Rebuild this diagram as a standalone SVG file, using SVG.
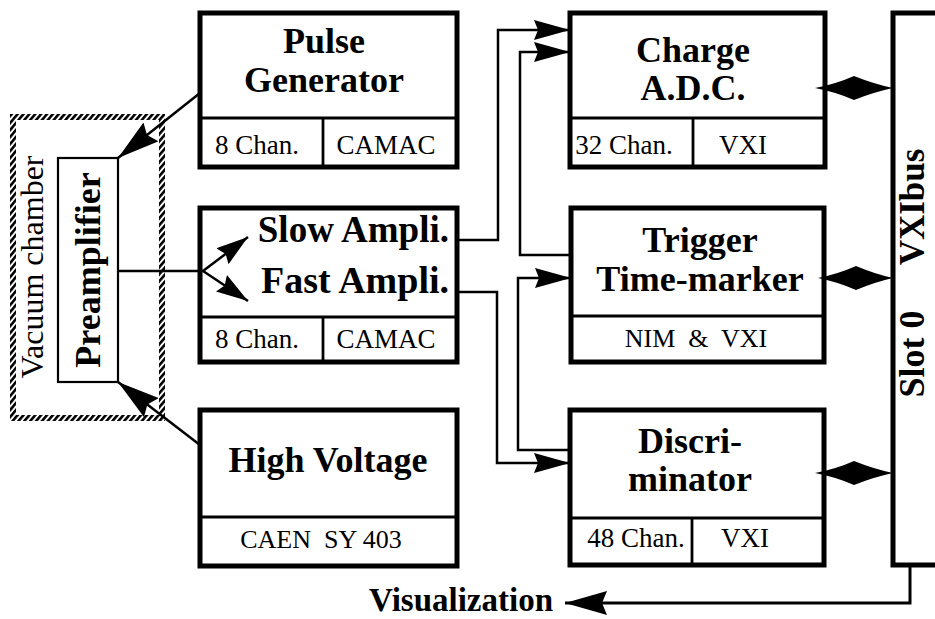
<svg xmlns="http://www.w3.org/2000/svg" width="935" height="619" viewBox="0 0 935 619">
<style>
  .box { fill: #fff; stroke: #000; stroke-width: 5; }
  .div { stroke: #000; stroke-width: 2.8; fill: none; }
  .thin { fill: #fff; stroke: #000; stroke-width: 2.2; }
  .wire { fill: none; stroke: #000; stroke-width: 2.5; }
  .big { font-family: "Liberation Serif", "Times New Roman", serif; font-weight: bold; font-size: 36px; fill: #000; text-anchor: middle; }
  .small { font-family: "Liberation Serif", "Times New Roman", serif; font-size: 27px; fill: #000; text-anchor: middle; }
  .dbl { fill: #000; stroke: none; }
</style>
<defs>
  <pattern id="hatch" width="4.5" height="4.5" patternUnits="userSpaceOnUse" patternTransform="rotate(40)">
    <rect x="0" y="0" width="2.6" height="4.5" fill="#000"/>
  </pattern>
  <marker id="ah" viewBox="0 0 36 20" refX="36" refY="10" markerWidth="36" markerHeight="20" markerUnits="userSpaceOnUse" orient="auto">
    <path d="M0,0 L36,10 L0,20 L4,10 Z" fill="#000"/>
  </marker>
  <marker id="ahs" viewBox="0 0 32 20" refX="32" refY="10" markerWidth="32" markerHeight="20" markerUnits="userSpaceOnUse" orient="auto">
    <path d="M0,0 L32,10 L0,20 L4,10 Z" fill="#000"/>
  </marker>
  <marker id="ahb" viewBox="0 0 42 24" refX="42" refY="12" markerWidth="42" markerHeight="24" markerUnits="userSpaceOnUse" orient="auto">
    <path d="M0,0 L42,12 L0,24 L5,12 Z" fill="#000"/>
  </marker>
</defs>
<rect width="935" height="619" fill="#fff"/>

<g id="vacuum-chamber">
  <rect x="13" y="117" width="149" height="301" fill="none" stroke="url(#hatch)" stroke-width="6"/>
  <text class="small" style="font-size:32px" transform="translate(43,267) rotate(-90)">Vacuum chamber</text>
</g>

<g id="preamplifier">
  <rect class="thin" x="58" y="158" width="60" height="224"/>
  <text class="big" style="font-size:36px" transform="translate(100,270) rotate(-90)">Preamplifier</text>
</g>

<g id="pulse-generator">
  <rect class="box" x="200" y="13" width="257" height="154"/>
  <line class="div" x1="200" y1="118" x2="457" y2="118"/>
  <line class="div" x1="323" y1="118" x2="323" y2="167"/>
  <text class="big" x="324" y="53">Pulse</text>
  <text class="big" x="324" y="92">Generator</text>
  <text class="small" x="257" y="154">8 Chan.</text>
  <text class="small" x="386" y="154">CAMAC</text>
</g>

<g id="amplifier">
  <rect class="box" x="200" y="208" width="257" height="154"/>
  <line class="div" x1="200" y1="317" x2="457" y2="317"/>
  <line class="div" x1="323" y1="317" x2="323" y2="362"/>
  <text class="big" style="text-anchor:end;font-size:37px" x="449" y="242">Slow Ampli.</text>
  <text class="big" style="text-anchor:end;font-size:38px" x="449" y="293">Fast Ampli.</text>
  <text class="small" x="257" y="348">8 Chan.</text>
  <text class="small" x="386" y="348">CAMAC</text>
</g>

<g id="high-voltage">
  <rect class="box" x="200" y="410" width="257" height="156"/>
  <line class="div" x1="200" y1="517" x2="457" y2="517"/>
  <text class="big" x="328" y="472">High Voltage</text>
  <text class="small" style="font-size:26px" x="321" y="548" xml:space="preserve">CAEN  SY 403</text>
</g>

<g id="charge-adc">
  <rect class="box" x="570" y="13" width="255" height="154"/>
  <line class="div" x1="570" y1="118" x2="825" y2="118"/>
  <line class="div" x1="693" y1="118" x2="693" y2="167"/>
  <text class="big" x="693" y="62">Charge</text>
  <text class="big" x="693" y="100">A.D.C.</text>
  <text class="small" x="624" y="154">32 Chan.</text>
  <text class="small" x="743" y="154">VXI</text>
</g>

<g id="trigger">
  <rect class="box" x="571" y="208" width="253" height="154"/>
  <line class="div" x1="571" y1="316" x2="824" y2="316"/>
  <text class="big" x="700" y="252">Trigger</text>
  <text class="big" x="700" y="291">Time-marker</text>
  <text class="small" style="font-size:26px" x="696" y="347" xml:space="preserve">NIM  &amp;  VXI</text>
</g>

<g id="discriminator">
  <rect class="box" x="570" y="410" width="254" height="155"/>
  <line class="div" x1="570" y1="518" x2="824" y2="518"/>
  <line class="div" x1="692" y1="518" x2="692" y2="565"/>
  <text class="big" x="690" y="453">Discri-</text>
  <text class="big" x="690" y="491">minator</text>
  <text class="small" x="636" y="547">48 Chan.</text>
  <text class="small" x="745" y="547">VXI</text>
</g>

<g id="vxibus">
  <rect class="box" x="893" y="13" width="70" height="552"/>
  <text class="big" style="font-size:35px" transform="translate(924,207) rotate(-90)">VXIbus</text>
  <text class="big" style="font-size:36px" transform="translate(924,354) rotate(-90)">Slot 0</text>
</g>

<g id="visualization">
  <text class="big" style="font-size:33px;text-anchor:end" x="553" y="611">Visualization</text>
</g>

<g id="connectors">
  <path class="wire" d="M200,93 L118,158" marker-end="url(#ahb)"/>
  <path class="wire" d="M200,445 L118,382" marker-end="url(#ahb)"/>
  <path class="wire" d="M118,271 L203,271"/>
  <path class="wire" d="M203,271 L248,237" marker-end="url(#ahs)"/>
  <path class="wire" d="M203,271 L248,301" marker-end="url(#ahs)"/>
  <path class="wire" d="M457,240 H498 V30 H570" marker-end="url(#ah)"/>
  <path class="wire" d="M571,255 H520 V52 H570" marker-end="url(#ah)"/>
  <path class="wire" d="M570,450 H518 V278 H571" marker-end="url(#ah)"/>
  <path class="wire" d="M457,292 H497 V463 H570" marker-end="url(#ah)"/>
  <path class="wire" style="stroke-width:3" d="M910,565 V603 H565" marker-end="url(#ahb)"/>
  <path class="dbl" d="M815,88 Q836,84 854,76 Q874,84 893,88 Q874,92 854,100 Q836,92 815,88 Z"/>
  <path class="dbl" d="M818,278 Q838,274 856,266 Q875,274 893,278 Q875,282 856,290 Q838,282 818,278 Z"/>
  <path class="dbl" d="M815,473 Q836,469 854,461 Q874,469 893,473 Q874,477 854,485 Q836,477 815,473 Z"/>
</g>
</svg>
